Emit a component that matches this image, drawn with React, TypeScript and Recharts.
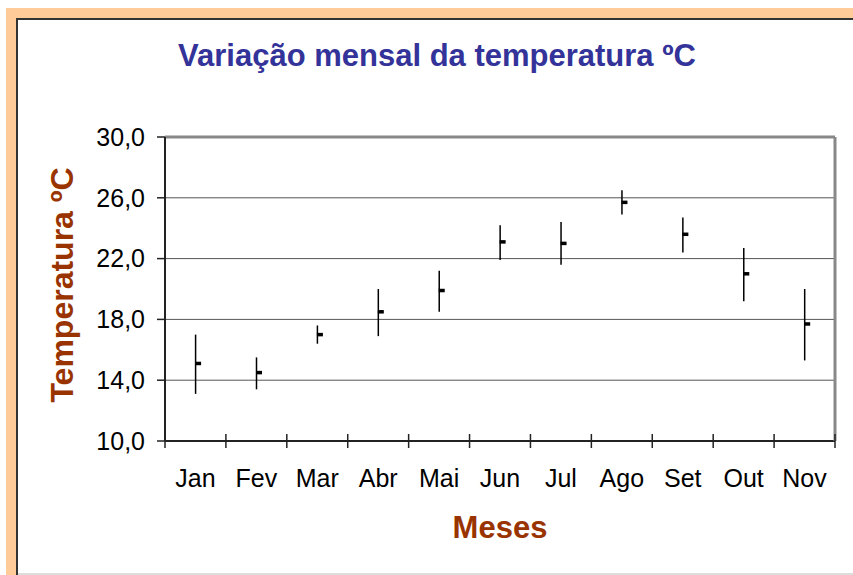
import React from 'react';
import { ComposedChart, Bar, XAxis, YAxis, CartesianGrid, ReferenceLine } from 'recharts';

const months = ['Jan', 'Fev', 'Mar', 'Abr', 'Mai', 'Jun', 'Jul', 'Ago', 'Set', 'Out', 'Nov'];
const highs = [17.0, 15.5, 17.6, 20.0, 21.2, 24.2, 24.4, 26.5, 24.7, 22.7, 20.0];
const lows = [13.1, 13.4, 16.4, 16.9, 18.5, 21.9, 21.6, 24.9, 22.4, 19.2, 15.3];
const closes = [15.1, 14.5, 17.0, 18.5, 19.9, 23.1, 23.0, 25.7, 23.6, 21.0, 17.7];
const yTicks = [10, 14, 18, 22, 26, 30];

const data = months.map((m, i) => ({ month: m, high: highs[i], low: lows[i], close: closes[i] }));

const FONT = '"Liberation Sans", Arial, sans-serif';
const TICK_MARGIN = 28;

const HLCShape = (props: any) => {
  const { x, y, width, height, payload } = props;
  if (x == null || y == null) return null;
  const cx = x + width / 2;
  const span = payload.high - payload.low;
  const cy = y + (span > 0 ? (height * (payload.high - payload.close)) / span : 0);
  return (
    <g>
      <line x1={cx} y1={y} x2={cx} y2={y + height} stroke="#000" strokeWidth={1.5} />
      <rect x={cx - 0.5} y={cy - 1.75} width={6} height={3.5} fill="#000" />
    </g>
  );
};

const XTick = (props: any) => {
  const { x, y, payload, index, visibleTicksCount } = props;
  const off = payload && payload.offset ? payload.offset : 0;
  const axisY = y - TICK_MARGIN;
  const last = index === (visibleTicksCount ?? months.length) - 1;
  return (
    <g>
      <line x1={x - off} y1={axisY - 7} x2={x - off} y2={axisY + 7} stroke="#222" strokeWidth={1.5} />
      {last && <line x1={x + off} y1={axisY - 7} x2={x + off} y2={axisY + 7} stroke="#222" strokeWidth={1.5} />}
      <text x={x} y={y} dy="0.71em" textAnchor="middle" fontFamily={FONT} fontSize={25} fill="#000">
        {payload.value}
      </text>
    </g>
  );
};

export default function App() {
  return (
    <div style={{ position: 'absolute', left: 0, top: 0, width: 853, height: 575, background: '#fff', overflow: 'hidden' }}>
      <div style={{ position: 'absolute', left: 6, top: 8, width: 847, height: 10, background: '#FFCC99' }} />
      <div style={{ position: 'absolute', left: 6, top: 8, width: 10, height: 567, background: '#FFCC99' }} />
      <div style={{ position: 'absolute', left: 16, top: 18, width: 837, height: 2, background: '#333' }} />
      <div style={{ position: 'absolute', left: 16, top: 18, width: 2, height: 557, background: '#333' }} />
      <div style={{ position: 'absolute', left: 18, top: 573, width: 835, height: 2, background: '#ddd' }} />
      <div style={{ position: 'absolute', left: 0, top: 0 }}>
        <ComposedChart width={853} height={575} data={data} margin={{ top: 137, right: 17, bottom: 94, left: 0 }}>
          <CartesianGrid yAxisId="left" vertical={false} stroke="#555" strokeWidth={1} />
          <XAxis
            dataKey="month"
            height={40}
            tickSize={0}
            tickMargin={TICK_MARGIN}
            tick={<XTick />}
            axisLine={{ stroke: '#222', strokeWidth: 2 }}
            interval={0}
          />
          <YAxis
            yAxisId="left"
            width={165}
            domain={[10, 30]}
            ticks={yTicks}
            tickFormatter={(v: number) => v.toFixed(1).replace('.', ',')}
            tick={{ fontFamily: FONT, fontSize: 25, fill: '#000' }}
            tickSize={8}
            tickMargin={12}
            tickLine={{ stroke: '#222', strokeWidth: 1.5 }}
            axisLine={{ stroke: '#222', strokeWidth: 2 }}
          />
          <YAxis yAxisId="right" orientation="right" width={1} domain={[10, 30]} tick={false} tickLine={false} axisLine={{ stroke: '#888', strokeWidth: 3 }} />
          <ReferenceLine yAxisId="left" y={30} stroke="#888" strokeWidth={3} />
          <Bar yAxisId="left" dataKey={(d: any) => [d.low, d.high]} shape={<HLCShape />} isAnimationActive={false} />
        </ComposedChart>
      </div>
      <svg width={853} height={575} style={{ position: 'absolute', left: 0, top: 0, pointerEvents: 'none' }}>
        <text x={437} y={66} textAnchor="middle" fontFamily={FONT} fontWeight="bold" fontSize={31} fill="#333399">
          Variação mensal da temperatura ºC
        </text>
        <text x={500} y={538} textAnchor="middle" fontFamily={FONT} fontWeight="bold" fontSize={31} fill="#993300">
          Meses
        </text>
        <text x={73} y={285} textAnchor="middle" fontFamily={FONT} fontWeight="bold" fontSize={32} fill="#993300" transform="rotate(-90 73 285)">
          Temperatura ºC
        </text>
      </svg>
    </div>
  );
}
